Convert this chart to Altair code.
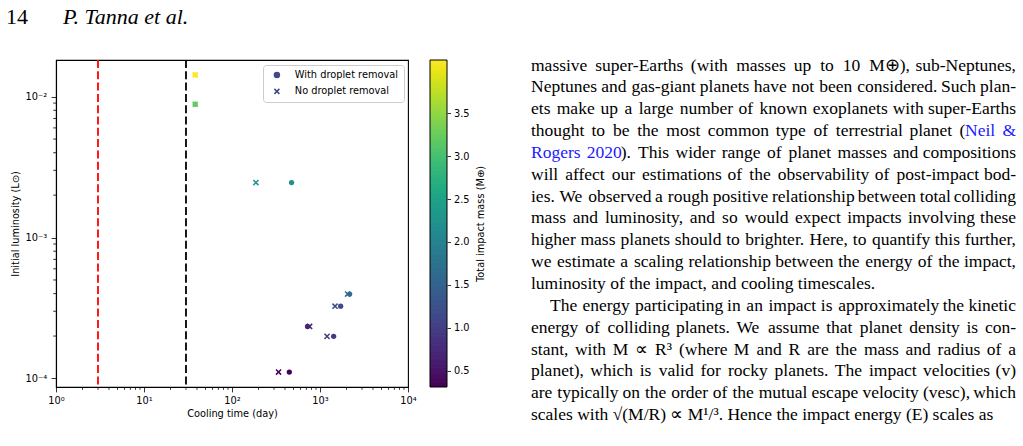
import altair as alt
import pandas as pd

# ---------------- data ----------------
WITH_TIME = [38.2, 38.2, 475, 2172, 1716, 722, 1429, 448]
NO_TIME = [38.2, 38.2, 187, 2061, 1482, 762, 1202, 338]
LUMINOSITY = [0.01426, 0.00883, 0.002455, 3.97e-4, 3.26e-4, 2.34e-4, 1.99e-4, 1.11e-4]
MASS = [4.12, 3.2, 2.2, 1.65, 1.15, 0.69, 0.95, 0.31]
SERIES = ["With droplet removal", "No droplet removal"]

RED_LINE_DAY = [3]
BLACK_LINE_DAY = [30]

X_MAJOR = [1, 10, 100, 1000, 10000]
X_MINOR = [m * 10 ** e for e in range(0, 4) for m in range(2, 10)]
Y_MAJOR = [1e-4, 1e-3, 1e-2]
Y_MINOR = [m * 10.0 ** e for e in (-4, -3) for m in range(2, 10)]
CBAR_TICKS = [0.5, 1.0, 1.5, 2.0, 2.5, 3.0, 3.5]

HEADER_NUM = ["14"]
HEADER_TITLE = ["P. Tanna et al."]
BODY = [
    "massive super-Earths (with masses up to 10 M\u2295), sub-Neptunes,",
    "Neptunes and gas-giant planets have not been considered. Such plan-",
    "ets make up a large number of known exoplanets with super-Earths",
    "thought to be the most common type of terrestrial planet (Neil &",
    "Rogers 2020). This wider range of planet masses and compositions",
    "will affect our estimations of the observability of post-impact bod-",
    "ies. We observed a rough positive relationship between total colliding",
    "mass and luminosity, and so would expect impacts involving these",
    "higher mass planets should to brighter. Here, to quantify this further,",
    "we estimate a scaling relationship between the energy of the impact,",
    "luminosity of the impact, and cooling timescales.",
    "The energy participating in an impact is approximately the kinetic",
    "energy of colliding planets. We assume that planet density is con-",
    "stant, with M \u221d R\u00b3 (where M and R are the mass and radius of a",
    "planet), which is valid for rocky planets. The impact velocities (v)",
    "are typically on the order of the mutual escape velocity (vesc), which",
    "scales with \u221a(M/R) \u221d M\u00b9/\u00b3. Hence the impact energy (E) scales as",
]
RAGGED = {10, 16}
PARA_START = {11}
LINK_SPANS = {3: "Neil &", 4: "Rogers 2020"}

# ---------------- layout / style constants ----------------
PLOT_L, PLOT_T, W, H = 56, 60, 352, 327
TXT_L, TXT_R, INDENT = 531, 1016, 19
BASE0, LINE_H = 70.5, 21.85
BODY_FS = 17.5
HDR_FS = 22
CAL = 0.975
LINK_COLOR = "#1a1aff"
CBAR_X0, CBAR_X1 = 374, 391
CBAR_STEPS = 256

# Times/Liberation Serif advance widths (per 1000 em) used to justify the page text
WIDTHS = {" ": 250, "!": 333, "(": 333, ")": 333, ",": 250, "-": 333, ".": 250, "/": 278,
          ":": 278, ";": 278, "&": 778, "?": 444, "\u2295": 838, "\u221d": 713, "\u221a": 549,
          "\u00b3": 300, "\u00b9": 300}
WIDTHS.update({d: 500 for d in "0123456789"})
WIDTHS.update(dict(zip("ABCDEFGHIJKLMNOPQRSTUVWXYZ",
                       [722, 667, 667, 722, 611, 556, 722, 722, 333, 389, 722, 611, 889, 722, 722,
                        556, 722, 667, 556, 611, 722, 722, 944, 722, 722, 611])))
WIDTHS.update(dict(zip("abcdefghijklmnopqrstuvwxyz",
                       [444, 500, 444, 500, 444, 333, 500, 500, 278, 278, 500, 278, 778, 500, 500,
                        500, 500, 333, 389, 278, 500, 500, 722, 500, 500, 444])))

vmin, vmax = min(MASS), max(MASS)

with_df = pd.DataFrame({"time": WITH_TIME, "lum": LUMINOSITY, "mass": MASS, "type": SERIES[0]})
no_df = pd.DataFrame({"time": NO_TIME, "lum": LUMINOSITY, "mass": MASS, "type": SERIES[1]})

xscale = alt.Scale(type="log", domain=[1, 10000], nice=False)
yscale = alt.Scale(type="log", domain=[8.7e-5, 0.0182], nice=False)

x_axis = alt.Axis(
    values=X_MAJOR, grid=False, tickSize=4.9, labelPadding=4, title="Cooling time (day)",
    titlePadding=3, labelFlush=False,
    labelExpr="datum.value < 5 ? '10\u2070' : datum.value < 50 ? '10\u00b9' : datum.value < 500 ? '10\u00b2' : datum.value < 5000 ? '10\u00b3' : '10\u2074'",
)
y_axis = alt.Axis(
    values=Y_MAJOR, grid=False, tickSize=4.9, labelPadding=4.5, title="Initial luminosity (L\u2299)",
    titlePadding=5, labelFlush=False,
    labelExpr="datum.value < 0.0005 ? '10\u207b\u2074' : datum.value < 0.005 ? '10\u207b\u00b3' : '10\u207b\u00b2'",
)

red = alt.Chart(pd.DataFrame({"d": RED_LINE_DAY})).mark_rule(
    color="#ff0000", strokeWidth=1.8, strokeDash=[8, 3.3]
).encode(x=alt.X("d:Q", scale=xscale, axis=x_axis))

black = alt.Chart(pd.DataFrame({"d": BLACK_LINE_DAY})).mark_rule(
    color="black", strokeWidth=1.8, strokeDash=[8, 3.3]
).encode(x=alt.X("d:Q", scale=xscale, axis=x_axis))

xminor = alt.Chart(pd.DataFrame({"v": X_MINOR})).mark_rule(color="black", strokeWidth=0.8).encode(
    x=alt.X("v:Q", scale=xscale, axis=x_axis), y=alt.value(H), y2=alt.value(H + 2.8)
)
yminor = alt.Chart(pd.DataFrame({"v": Y_MINOR})).mark_rule(color="black", strokeWidth=0.8).encode(
    y=alt.Y("v:Q", scale=yscale, axis=y_axis), x=alt.value(0), x2=alt.value(-2.8)
)

cscale = alt.Scale(scheme="viridis", domain=[vmin, vmax], nice=False, zero=False)
shape_scale = alt.Scale(domain=SERIES, range=["circle", "M-1,-1L1,1M-1,1L1,-1"])
shape_legend = alt.Legend(
    orient="none", legendX=207, legendY=5, title=None, padding=5,
    symbolOffset=4, strokeColor="#cccccc", fillColor="rgba(255,255,255,0.8)",
    cornerRadius=3, symbolFillColor="#3e4a89", symbolStrokeColor="#3e4a89",
    symbolSize=25, symbolStrokeWidth=1.5, labelOffset=13, rowPadding=4.5,
)


def series_layer(df, filled):
    return alt.Chart(df).mark_point(filled=filled, opacity=1, size=28 if filled else 26, strokeWidth=1.5).encode(
        x=alt.X("time:Q", scale=xscale, axis=x_axis),
        y=alt.Y("lum:Q", scale=yscale, axis=y_axis),
        color=alt.Color("mass:Q", scale=cscale, legend=None),
        shape=alt.Shape("type:N", scale=shape_scale, legend=shape_legend),
    )


circles = series_layer(with_df, True)
crosses = series_layer(no_df, False)

# ---------------- colour bar (drawn through the shared viridis scale) ----------------
step = (vmax - vmin) / CBAR_STEPS
cbar_y = alt.Scale(domain=[vmin, vmax], nice=False, zero=False)
cbar_axis = alt.Axis(orient="right", offset=CBAR_X1 - W, values=CBAR_TICKS, format=".1f", domain=False,
                     grid=False, tickSize=3.5, labelPadding=3, title="Total impact mass (M\u2295)",
                     titleAngle=270, titlePadding=16)
cbar = alt.Chart(alt.sequence(0, CBAR_STEPS, as_="k")).transform_calculate(
    lo=f"{vmin} + datum.k * {step}",
    hi=f"min({vmin} + (datum.k + 1.6) * {step}, {vmax})",
    mid=f"{vmin} + (datum.k + 0.5) * {step}",
).mark_rect(strokeWidth=0).encode(
    x=alt.value(CBAR_X0), x2=alt.value(CBAR_X1),
    y=alt.Y("lo:Q", scale=cbar_y, axis=cbar_axis), y2="hi:Q",
    color=alt.Color("mid:Q", scale=cscale, legend=None),
)
cbar_frame = alt.Chart(pd.DataFrame({"k": [0]})).mark_rect(
    fillOpacity=0, stroke="black", strokeWidth=1
).encode(x=alt.value(CBAR_X0), x2=alt.value(CBAR_X1), y=alt.value(0), y2=alt.value(H))

# ---------------- page text (justified word by word) ----------------
def str_w(s):
    return sum(WIDTHS.get(c, 600) for c in s) * BODY_FS / 1000 * CAL


rows = []
for i, line in enumerate(BODY):
    base = BASE0 + i * LINE_H - PLOT_T
    x0 = TXT_L + (INDENT if i in PARA_START else 0)
    if i in RAGGED:
        rows.append((line, x0 - PLOT_L, base, "black", "left"))
        continue
    mask = [False] * len(line)
    if i in LINK_SPANS:
        k = line.find(LINK_SPANS[i])
        for c in range(k, k + len(LINK_SPANS[i])):
            mask[c] = True
    words, idx = [], 0
    for w in line.split(" "):
        words.append((w, idx))
        idx += len(w) + 1
    total = sum(str_w(w) for w, _ in words)
    gap = max((TXT_R - x0 - total) / (len(words) - 1), 2.5)
    x = x0
    for j, (w, s) in enumerate(words):
        runs = []
        for c, ch in enumerate(w):
            flag = mask[s + c]
            if runs and runs[-1][1] == flag:
                runs[-1][0] += ch
            else:
                runs.append([ch, flag])
        if j == len(words) - 1 and len(runs) == 1:
            rows.append((w, TXT_R - PLOT_L, base, LINK_COLOR if runs[0][1] else "black", "right"))
        else:
            rx = x
            for txt, flag in runs:
                rows.append((txt, rx - PLOT_L, base, LINK_COLOR if flag else "black", "left"))
                rx += str_w(txt)
        x += str_w(w) + gap

body = pd.DataFrame(rows, columns=["text", "xp", "yp", "col", "side"])


def text_layer(df, align, **kw):
    return alt.Chart(df).mark_text(align=align, baseline="alphabetic", **kw).encode(
        x=alt.X("xp:Q", scale=None), y=alt.Y("yp:Q", scale=None), text="text:N",
        fill=alt.Fill("col:N", scale=None),
    )


body_left = text_layer(body[body["side"] == "left"], "left", font="Liberation Serif", fontSize=BODY_FS)
body_right = text_layer(body[body["side"] == "right"], "right", font="Liberation Serif", fontSize=BODY_FS)

hdr_base = 23.5 - PLOT_T
hdr_num = text_layer(pd.DataFrame({"text": HEADER_NUM, "xp": [6 - PLOT_L], "yp": [hdr_base], "col": ["black"]}),
                     "left", font="Liberation Serif", fontSize=HDR_FS)
hdr_title = text_layer(pd.DataFrame({"text": HEADER_TITLE, "xp": [63 - PLOT_L], "yp": [hdr_base], "col": ["black"]}),
                       "left", font="Liberation Serif", fontSize=HDR_FS, fontStyle="italic")

main = alt.layer(red, black, xminor, yminor, circles, crosses)
cbar_group = alt.layer(cbar, cbar_frame)
chart = alt.layer(main, cbar_group, body_left, body_right, hdr_num, hdr_title).resolve_scale(
    y="independent"
).properties(
    width=W, height=H,
    autosize=alt.AutoSizeParams(type="none"),
    padding={"left": PLOT_L, "top": PLOT_T, "right": 1023 - PLOT_L - W, "bottom": 446 - PLOT_T - H},
    background="white",
).configure_view(stroke="black", strokeWidth=1.1).configure_axis(
    labelFont="DejaVu Sans", titleFont="DejaVu Sans", labelFontSize=9.8, titleFontSize=9.8,
    labelColor="black", titleColor="black", titleFontWeight="normal", tickColor="black",
    domainColor="black", tickWidth=0.8, domainWidth=1.1,
).configure_legend(
    labelFont="DejaVu Sans", labelFontSize=9.8, labelColor="black",
)

chart.save("out.html", embed_options={"renderer": "svg", "actions": False})
